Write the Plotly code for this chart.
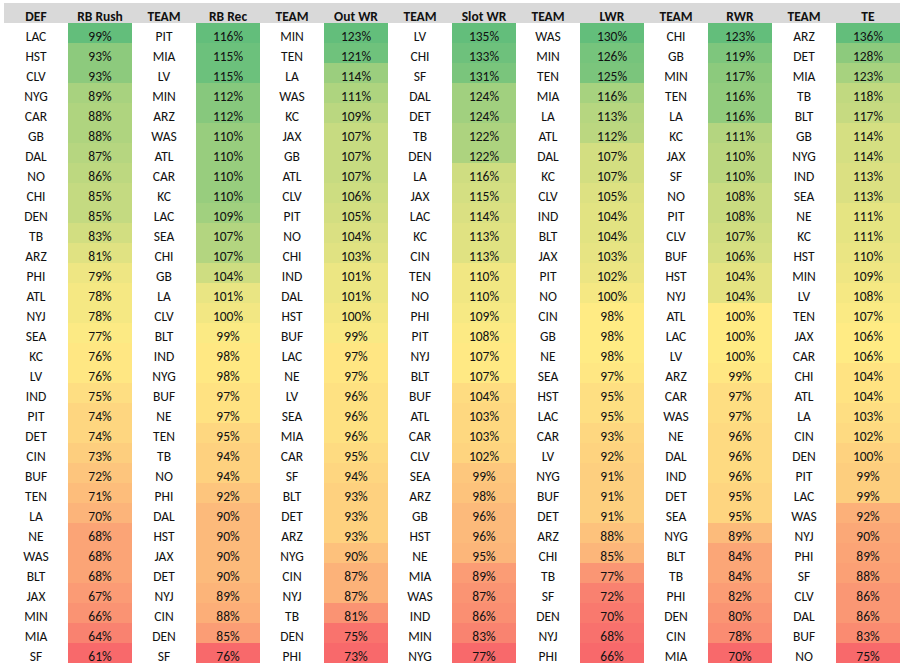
import numpy as np
import plotly.graph_objects as go

headers = ["DEF", "RB Rush", "TEAM", "RB Rec", "TEAM", "Out WR", "TEAM",
           "Slot WR", "TEAM", "LWR", "TEAM", "RWR", "TEAM", "TE"]

def_teams = ["LAC","HST","CLV","NYG","CAR","GB","DAL","NO","CHI","DEN","TB","ARZ","PHI","ATL","NYJ","SEA",
             "KC","LV","IND","PIT","DET","CIN","BUF","TEN","LA","NE","WAS","BLT","JAX","MIN","MIA","SF"]
rb_rush = [99,93,93,89,88,88,87,86,85,85,83,81,79,78,78,77,76,76,75,74,74,73,72,71,70,68,68,68,67,66,64,61]

rbrec_teams = ["PIT","MIA","LV","MIN","ARZ","WAS","ATL","CAR","KC","LAC","SEA","CHI","GB","LA","CLV","BLT",
               "IND","NYG","BUF","NE","TEN","TB","NO","PHI","DAL","HST","JAX","DET","NYJ","CIN","DEN","SF"]
rb_rec = [116,115,115,112,112,110,110,110,110,109,107,107,104,101,100,99,98,98,97,97,95,94,94,92,90,90,90,90,89,88,85,76]

outwr_teams = ["MIN","TEN","LA","WAS","KC","JAX","GB","ATL","CLV","PIT","NO","CHI","IND","DAL","HST","BUF",
               "LAC","NE","LV","SEA","MIA","CAR","SF","BLT","DET","ARZ","NYG","CIN","NYJ","TB","DEN","PHI"]
out_wr = [123,121,114,111,109,107,107,107,106,105,104,103,101,101,100,99,97,97,96,96,96,95,94,93,93,93,90,87,87,81,75,73]

slotwr_teams = ["LV","CHI","SF","DAL","DET","TB","DEN","LA","JAX","LAC","KC","CIN","TEN","NO","PHI","PIT",
                "NYJ","BLT","BUF","ATL","CAR","CLV","SEA","ARZ","GB","HST","NE","MIA","WAS","IND","MIN","NYG"]
slot_wr = [135,133,131,124,124,122,122,116,115,114,113,113,110,110,109,108,107,107,104,103,103,102,99,98,96,96,95,89,87,86,83,77]

lwr_teams = ["WAS","MIN","TEN","MIA","LA","ATL","DAL","KC","CLV","IND","BLT","JAX","PIT","NO","CIN","GB",
             "NE","SEA","HST","LAC","CAR","LV","NYG","BUF","DET","ARZ","CHI","TB","SF","DEN","NYJ","PHI"]
lwr = [130,126,125,116,113,112,107,107,105,104,104,103,102,100,98,98,98,97,95,95,93,92,91,91,91,88,85,77,72,70,68,66]

rwr_teams = ["CHI","GB","MIN","TEN","LA","KC","JAX","SF","NO","PIT","CLV","BUF","HST","NYJ","ATL","LAC",
             "LV","ARZ","CAR","WAS","NE","DAL","IND","DET","SEA","NYG","BLT","TB","PHI","DEN","CIN","MIA"]
rwr = [123,119,117,116,116,111,110,110,108,108,107,106,104,104,100,100,100,99,97,97,96,96,96,95,95,89,84,84,82,80,78,70]

te_teams = ["ARZ","DET","MIA","TB","BLT","GB","NYG","IND","SEA","NE","KC","HST","MIN","LV","TEN","JAX",
            "CAR","CHI","ATL","LA","CIN","DEN","PIT","LAC","WAS","NYJ","PHI","SF","CLV","DAL","BUF","NO"]
te = [136,128,123,118,117,114,114,113,113,111,111,110,109,108,107,106,106,104,104,103,102,100,99,99,92,90,89,88,86,86,83,75]

RED = np.array([0xF8, 0x69, 0x6B])
YEL = np.array([0xFF, 0xEB, 0x84])
GRN = np.array([0x63, 0xBE, 0x7B])

def scale_colors(vals):
    v = np.array(vals, dtype=float)
    lo, mid, hi = v.min(), np.percentile(v, 50), v.max()
    out = []
    for x in v:
        if x <= mid:
            t = 0 if mid == lo else (x - lo) / (mid - lo)
            c = RED + (YEL - RED) * t
        else:
            t = (x - mid) / (hi - mid)
            c = YEL + (GRN - YEL) * t
        c = np.round(c).astype(int)
        out.append(f"rgb({c[0]},{c[1]},{c[2]})")
    return out

team_cols = [def_teams, rbrec_teams, outwr_teams, slotwr_teams, lwr_teams, rwr_teams, te_teams]
val_cols = [rb_rush, rb_rec, out_wr, slot_wr, lwr, rwr, te]

values, fills = [], []
for teams, vals in zip(team_cols, val_cols):
    values.append(teams)
    fills.append(["white"] * len(teams))
    values.append([f"{v}%" for v in vals])
    fills.append(scale_colors(vals))

FONT = "Carlito, Lato"
fig = go.Figure(go.Table(
    columnwidth=[1] * 14,
    header=dict(values=[h.replace(" ", "\u00a0") for h in headers],
                fill_color="#D9D9D9", line=dict(width=0, color="#D9D9D9"),
                align="center", height=20,
                font=dict(family=FONT, size=13.5, color="#111111", weight="bold")),
    cells=dict(values=values, fill_color=fills,
               line=dict(width=0, color="white"),
               align="center", height=20,
               font=dict(family=FONT, size=13.5, color="#111111")),
    domain=dict(x=[0, 1], y=[0, 1]),
))
fig.update_layout(width=904, height=668,
                  margin=dict(l=4, r=4, t=3, b=5),
                  paper_bgcolor="white")
fig.write_html("out.html",
               config={"displayModeBar": False},
               post_script="document.body.style.margin='0px';document.body.style.overflow='hidden';")
